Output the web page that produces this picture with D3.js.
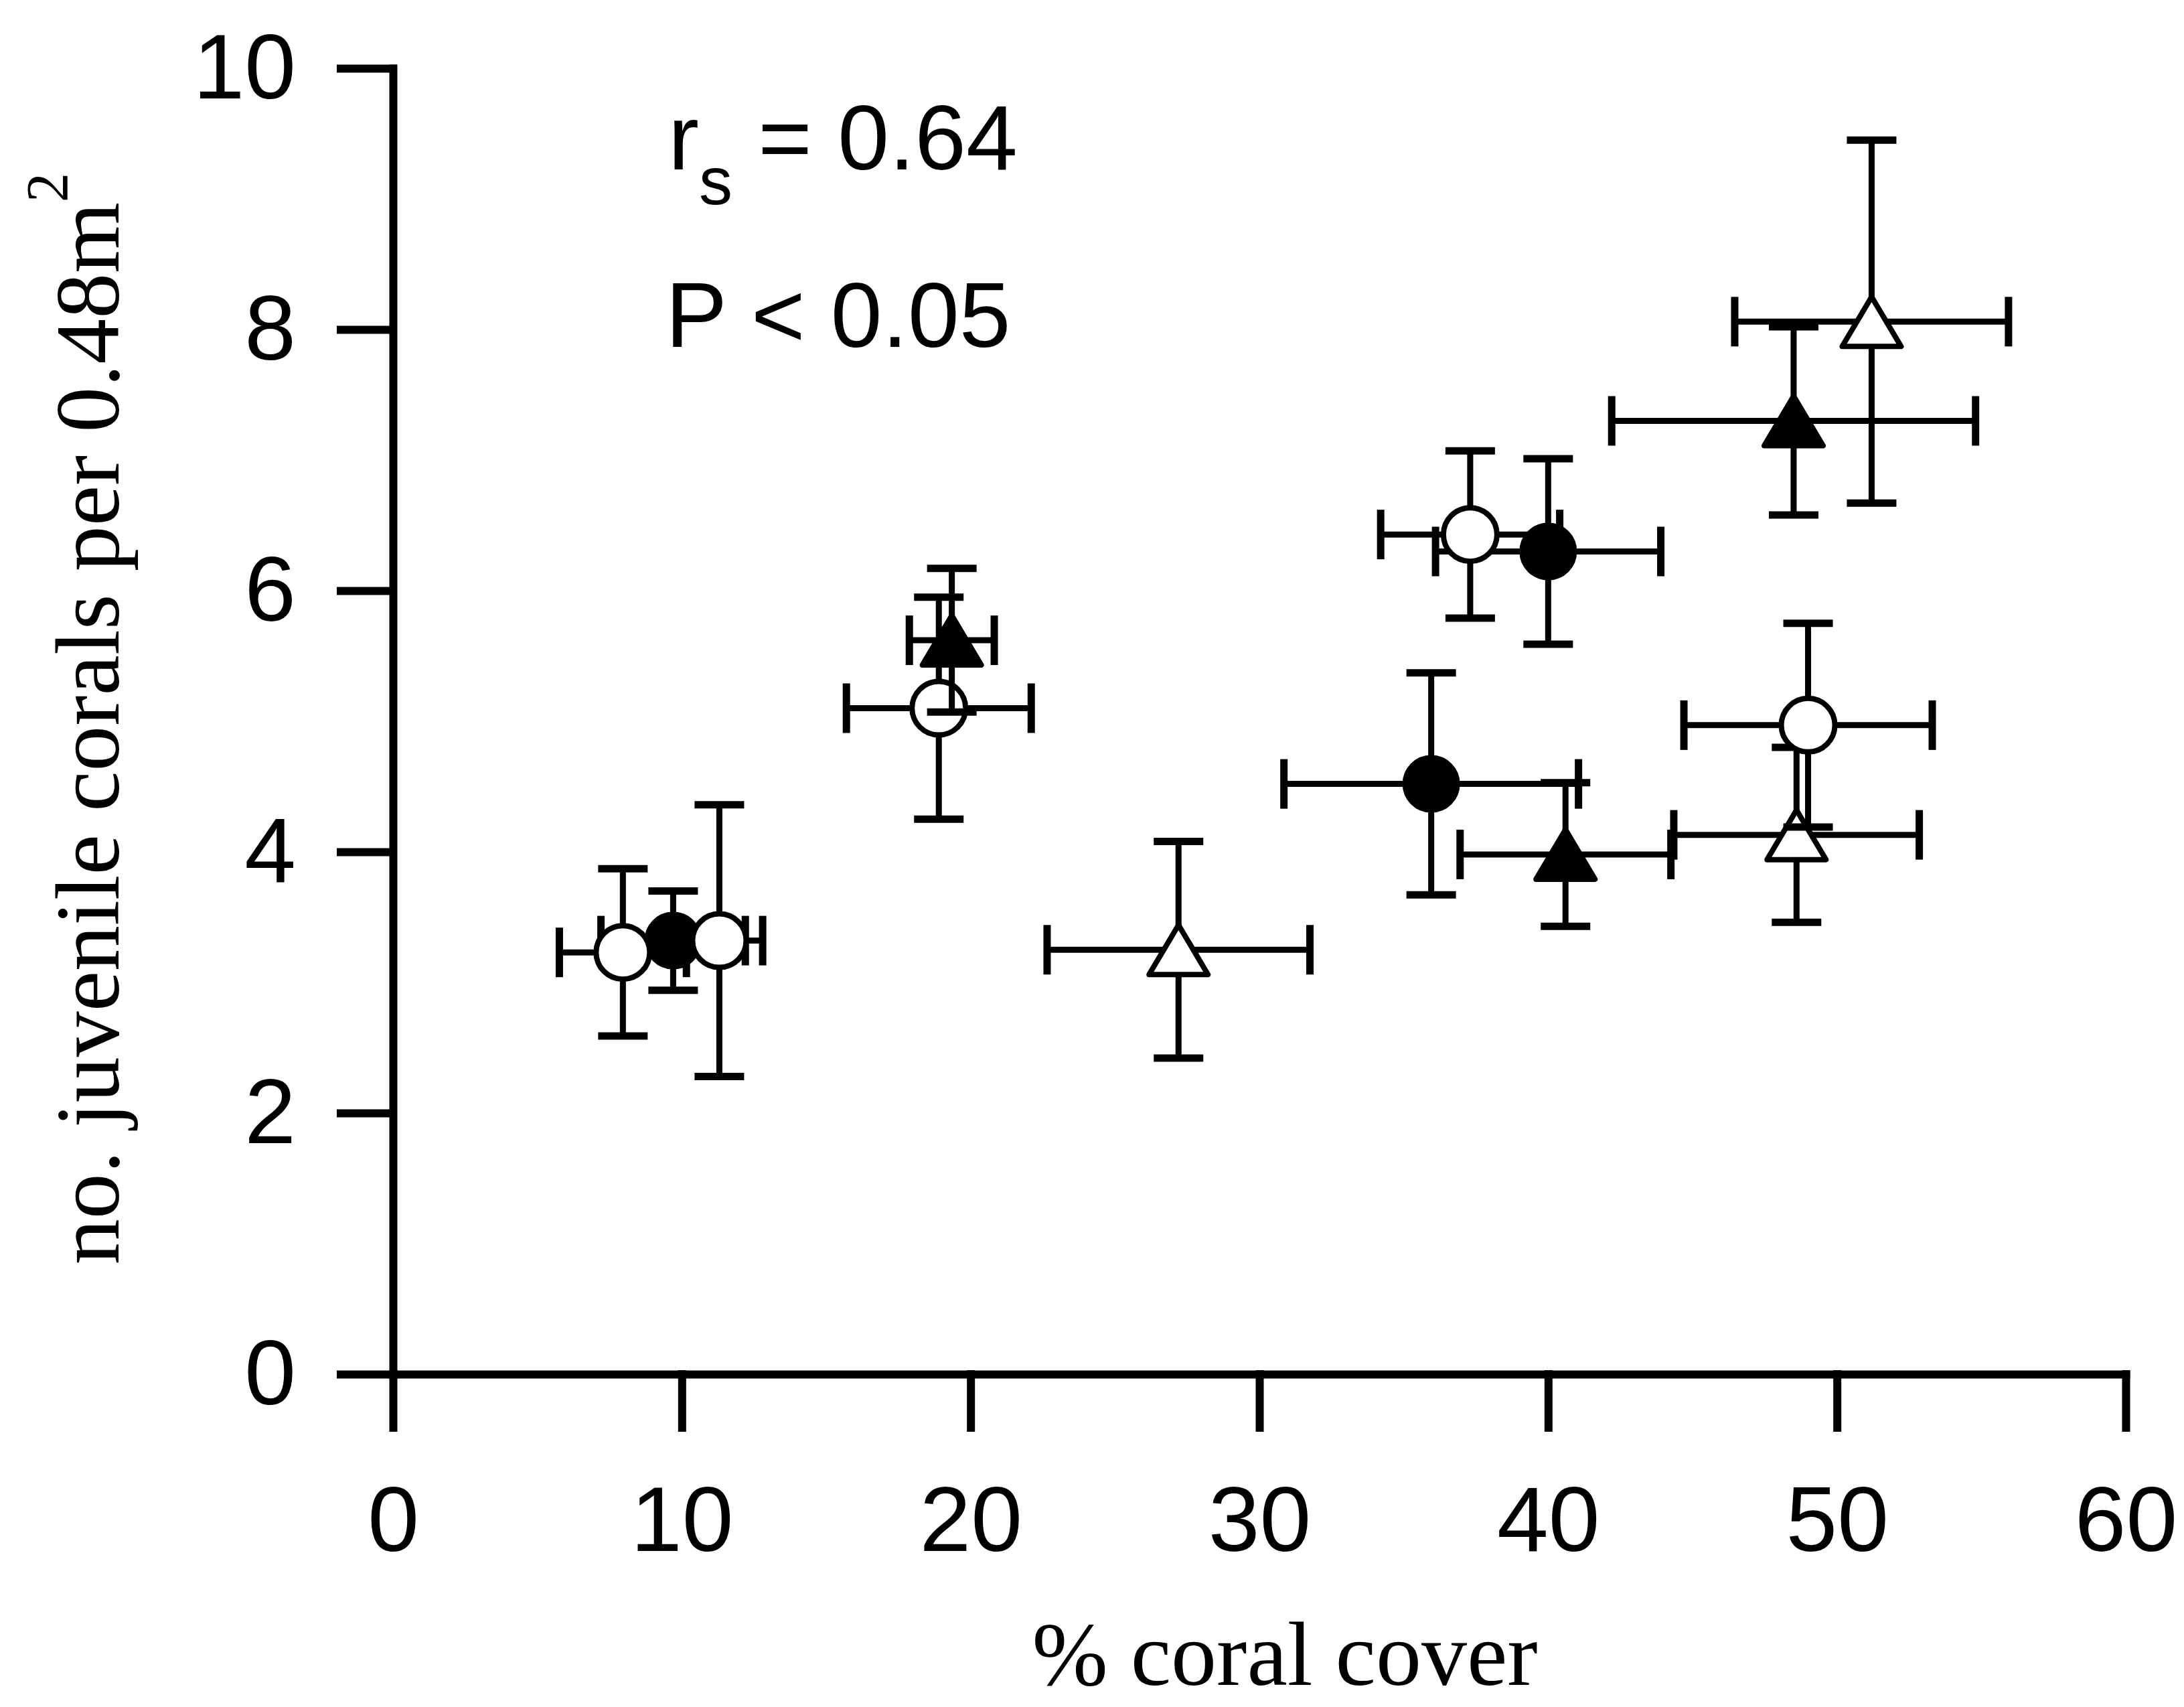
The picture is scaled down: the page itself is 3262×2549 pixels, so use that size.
<!DOCTYPE html>
<html>
<head>
<meta charset="utf-8">
<script src="https://cdn.jsdelivr.net/npm/d3@7"></script>
<style>
body { margin: 0; background: #fff; }
</style>
</head>
<body>
<div id="chart"></div>
<script>
// filled circles
var fcX = [9.7, 40.0, 35.95];
var fcY = [3.32, 6.30, 4.52];
var fcXErr = [2.5, 3.9, 5.1];
var fcYErr = [0.38, 0.71, 0.85];
// open triangles
var otX = [27.2, 48.6, 51.2];
var otY = [3.25, 4.13, 8.06];
var otXErr = [4.55, 4.25, 4.74];
var otYErr = [0.83, 0.67, 1.39];
// open circles
var ocX = [7.96, 11.3, 18.9, 37.3, 49.0];
var ocY = [3.23, 3.32, 5.10, 6.43, 4.97];
var ocXErr = [2.2, 1.5, 3.2, 3.1, 4.3];
var ocYErr = [0.64, 1.04, 0.85, 0.64, 0.78];
// filled triangles
var ftX = [19.35, 40.6, 48.5];
var ftY = [5.62, 3.98, 7.30];
var ftXErr = [1.47, 3.65, 6.3];
var ftYErr = [0.55, 0.55, 0.72];

var xTicks = [0, 10, 20, 30, 40, 50, 60];
var yTicks = [0, 2, 4, 6, 8, 10];

var svg = d3.select("#chart").append("svg").attr("width", 3262).attr("height", 2549),
    width = +svg.attr("width"),
    height = +svg.attr("height");

svg.append("rect").attr("width", width).attr("height", height).style("fill", "#fff");

var x = d3.scaleLinear().domain([0, 60]).range([587, 3175]);
var y = d3.scaleLinear().domain([0, 10]).range([2052, 102]);

// series in drawing order (later ones sit on top)
var series = [
    {shape: "circle", filled: true, xs: fcX, ys: fcY, xe: fcXErr, ye: fcYErr},
    {shape: "triangle", filled: false, xs: otX, ys: otY, xe: otXErr, ye: otYErr},
    {shape: "circle", filled: false, xs: ocX, ys: ocY, xe: ocXErr, ye: ocYErr},
    {shape: "triangle", filled: true, xs: ftX, ys: ftY, xe: ftXErr, ye: ftYErr}
];

// axes
var xAxis = svg.append("g")
    .attr("transform", "translate(0," + y(0) + ")")
    .call(d3.axisBottom(x).tickValues(xTicks).tickSize(80).tickSizeOuter(0).tickPadding(86));

var yAxis = svg.append("g")
    .attr("transform", "translate(" + x(0) + ",0)")
    .call(d3.axisLeft(y).tickValues(yTicks).tickSize(78).tickSizeOuter(0).tickPadding(67));

svg.selectAll(".domain, .tick line")
    .style("stroke", "#000")
    .style("stroke-width", "12px")
    .style("stroke-linecap", "square");

svg.selectAll(".tick text")
    .style("font-family", "'Liberation Sans', Arial, sans-serif")
    .style("font-size", "138px")
    .style("fill", "#000");

var capHalf = 37;
var triW = 88, triH = 74;

series.forEach(function(s) {
    var pts = s.xs.map(function(v, i) {
        return {x: v, y: s.ys[i], xe: s.xe[i], ye: s.ye[i]};
    });

    var g = svg.append("g");

    var bars = g.selectAll("g.err")
        .data(pts)
        .enter().append("g")
        .attr("class", "err")
        .style("stroke", "#000");

    // horizontal bar
    bars.append("line")
        .attr("x1", function(d) { return x(d.x - d.xe); })
        .attr("x2", function(d) { return x(d.x + d.xe); })
        .attr("y1", function(d) { return y(d.y); })
        .attr("y2", function(d) { return y(d.y); })
        .style("stroke-width", "9px");
    // vertical bar
    bars.append("line")
        .attr("x1", function(d) { return x(d.x); })
        .attr("x2", function(d) { return x(d.x); })
        .attr("y1", function(d) { return y(d.y - d.ye); })
        .attr("y2", function(d) { return y(d.y + d.ye); })
        .style("stroke-width", "9px");
    // caps
    [-1, 1].forEach(function(sign) {
        bars.append("line")
            .attr("x1", function(d) { return x(d.x + sign * d.xe); })
            .attr("x2", function(d) { return x(d.x + sign * d.xe); })
            .attr("y1", function(d) { return y(d.y) - capHalf; })
            .attr("y2", function(d) { return y(d.y) + capHalf; })
            .style("stroke-width", "11px");
        bars.append("line")
            .attr("x1", function(d) { return x(d.x) - capHalf; })
            .attr("x2", function(d) { return x(d.x) + capHalf; })
            .attr("y1", function(d) { return y(d.y + sign * d.ye); })
            .attr("y2", function(d) { return y(d.y + sign * d.ye); })
            .style("stroke-width", "11px");
    });

    var marks;
    if (s.shape === "circle") {
        marks = g.selectAll("circle")
            .data(pts)
            .enter().append("circle")
            .attr("cx", function(d) { return x(d.x); })
            .attr("cy", function(d) { return y(d.y); })
            .attr("r", s.filled ? 39 : 40);
    } else {
        marks = g.selectAll("path.mark")
            .data(pts)
            .enter().append("path")
            .attr("class", "mark")
            .attr("d", function(d) {
                var cx = x(d.x), cy = y(d.y);
                return "M" + cx + "," + (cy - triH / 2) +
                    "L" + (cx + triW / 2) + "," + (cy + triH / 2) +
                    "L" + (cx - triW / 2) + "," + (cy + triH / 2) + "Z";
            });
    }
    marks
        .style("fill", s.filled ? "#000" : "#fff")
        .style("stroke", "#000")
        .style("stroke-width", "8px")
        .style("stroke-linejoin", "round");
});

// statistics
var stat = svg.append("g")
    .style("font-family", "'Liberation Sans', Arial, sans-serif")
    .style("fill", "#000");

var rs = stat.append("text").attr("x", 998).attr("y", 253).style("font-size", "138px");
rs.append("tspan").text("r");
rs.append("tspan").attr("dy", 52).style("font-size", "100px").text("s");
rs.append("tspan").attr("dy", -52).text(" = 0.64");

stat.append("text").attr("x", 994).attr("y", 518).style("font-size", "138px").text("P < 0.05");

// axis titles
svg.append("text")
    .attr("x", 1919)
    .attr("y", 2516)
    .attr("text-anchor", "middle")
    .style("font-family", "'Liberation Serif', 'Times New Roman', serif")
    .style("font-size", "136px")
    .style("fill", "#000")
    .text("% coral cover");

var yl = svg.append("text")
    .attr("transform", "translate(177,1073) rotate(-90)")
    .attr("text-anchor", "middle")
    .style("font-family", "'Liberation Serif', 'Times New Roman', serif")
    .style("font-size", "136px")
    .style("fill", "#000");
yl.append("tspan").text("no. juvenile corals per 0.48m");
yl.append("tspan").attr("dy", -77).style("font-size", "88px").text("2");
</script>
</body>
</html>
